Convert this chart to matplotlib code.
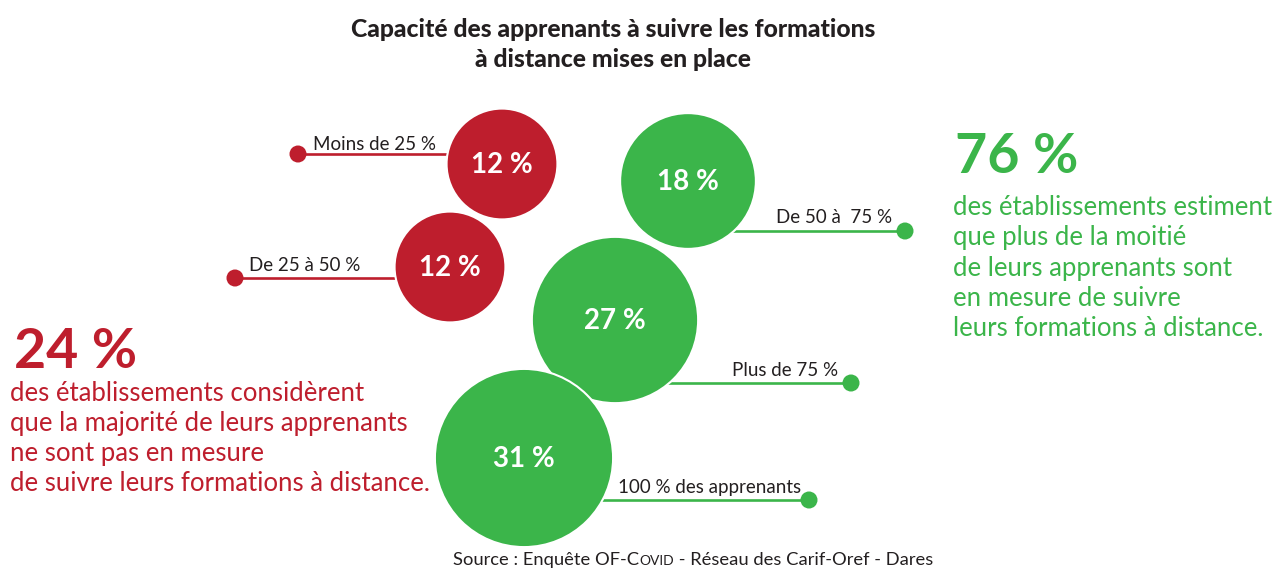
import numpy as np
import matplotlib
matplotlib.use("Agg")
import matplotlib.pyplot as plt
from matplotlib.patches import Circle

# ---------------- data ----------------
categories = ["Moins de 25 %", "De 25 à 50 %", "De 50 à  75 %", "Plus de 75 %", "100 % des apprenants"]
values = [12, 12, 18, 27, 31]
groups = ["low", "low", "high", "high", "high"]
summary_low = 24
summary_high = 76
title_lines = ["Capacité des apprenants à suivre les formations",
               "à distance mises en place"]
text_low = ["des établissements considèrent",
            "que la majorité de leurs apprenants",
            "ne sont pas en mesure",
            "de suivre leurs formations à distance."]
text_high = ["des établissements estiment",
             "que plus de la moitié",
             "de leurs apprenants sont",
             "en mesure de suivre",
             "leurs formations à distance."]

# ---------------- layout / style ----------------
RED = "#BE1E2D"
GREEN = "#3BB54A"
DARK = "#231F20"
colors = {"low": RED, "high": GREEN}
centers = [(502, 164), (450, 267), (688, 181), (615, 320), (524, 458)]
dots = [(298, 154), (235, 278), (905, 231), (851, 383), (809, 500)]
label_pos = [(313, 150, "left"), (249, 271, "left"), (892, 223, "right"),
             (838, 376, "right"), (618, 493, "left")]
K = 16.0  # radius scale (px per sqrt(%))

plt.rcParams['font.family'] = ['Lato', 'DejaVu Sans']

fig = plt.figure(figsize=(12.74, 5.68), dpi=100)
ax = fig.add_axes([0, 0, 1, 1])
ax.set_xlim(0, 1274)
ax.set_ylim(568, 0)
ax.axis('off')

# leader lines and dots
for (cx, cy), (dx, dy), g in zip(centers, dots, groups):
    ax.plot([dx, cx], [dy, dy], color=colors[g], lw=1.9, zorder=1, solid_capstyle='butt')
    ax.add_patch(Circle((dx, dy), 8.5, color=colors[g], zorder=2, lw=0))

# labels
for cat, (lx, ly, ha) in zip(categories, label_pos):
    ax.text(lx, ly, cat, ha=ha, va='baseline', fontsize=13.5, color=DARK, zorder=3)

# bubbles
for (cx, cy), v, g in zip(centers, values, groups):
    r = K * np.sqrt(v)
    ax.add_patch(Circle((cx, cy), r, facecolor=colors[g], edgecolor='white', lw=1.5, zorder=4))
    ax.text(cx, cy + 1, f"{v} %", ha='center', va='center', fontsize=20,
            fontweight='bold', color='white', zorder=5)

# title
for i, line in enumerate(title_lines):
    ax.text(613, 37 + i * 30, line, ha='center', va='baseline', fontsize=17.8,
            fontweight='black', color=DARK)

# summaries
ax.text(14, 368, f"{summary_low} %", ha='left', va='baseline', fontsize=40,
        fontweight='bold', color=RED)
for i, line in enumerate(text_low):
    ax.text(10, 401 + i * 30, line, ha='left', va='baseline', fontsize=18.5, color=RED)

ax.text(955, 173, f"{summary_high} %", ha='left', va='baseline', fontsize=40,
        fontweight='bold', color=GREEN)
for i, line in enumerate(text_high):
    ax.text(953, 215 + i * 30.3, line, ha='left', va='baseline', fontsize=18.5, color=GREEN)

# source with small caps "Covid"
pieces = [("Source : Enquête OF-C", 13.2), ("OVID", 10), (" - Réseau des Carif-Oref - Dares", 13.2)]
renderer = fig.canvas.get_renderer()
texts = []
for s, fs in pieces:
    t = ax.text(0, 565, s, ha='left', va='baseline', fontsize=fs, color=DARK)
    texts.append(t)
widths = [t.get_window_extent(renderer).width for t in texts]
x = 693 - sum(widths) / 2
for t, w in zip(texts, widths):
    t.set_x(x)
    x += w

fig.savefig("out.png", dpi=100)
